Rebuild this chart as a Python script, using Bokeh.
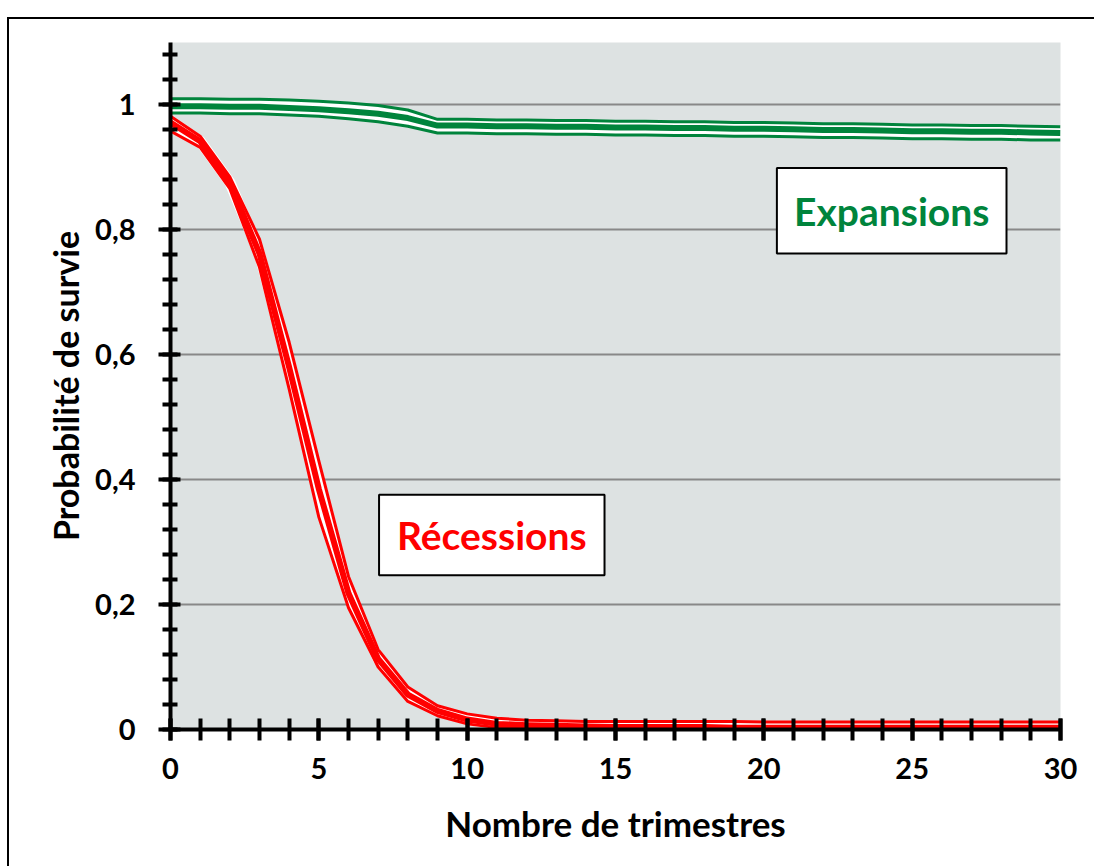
from bokeh.plotting import figure
from bokeh.models import Range1d, FixedTicker, BoxAnnotation, Label
from bokeh.embed import file_html
from bokeh.resources import INLINE

# ---- data ----
quarters = list(range(31))

rec_mid = [0.972, 0.942, 0.876, 0.762, 0.580, 0.385, 0.218, 0.113, 0.056, 0.030,
           0.016, 0.009, 0.007, 0.006, 0.005, 0.004, 0.004, 0.004, 0.004, 0.003,
           0.003, 0.003, 0.003, 0.003, 0.003, 0.003, 0.003, 0.003, 0.003, 0.003, 0.003]
rec_up = [0.982, 0.950, 0.885, 0.785, 0.620, 0.430, 0.245, 0.128, 0.068, 0.038,
          0.025, 0.018, 0.015, 0.014, 0.013, 0.013, 0.013, 0.013, 0.013, 0.013,
          0.012, 0.012, 0.012, 0.012, 0.012, 0.012, 0.012, 0.012, 0.012, 0.012, 0.012]
rec_lo = [0.958, 0.932, 0.866, 0.740, 0.545, 0.340, 0.195, 0.100, 0.045, 0.022,
          0.009, 0.003, 0.001, 0.000, 0.000, 0.000, 0.000, 0.000, 0.000, 0.000,
          0.000, 0.000, 0.000, 0.000, 0.000, 0.000, 0.000, 0.000, 0.000, 0.000, 0.000]

exp_mid = [0.998, 0.998, 0.997, 0.997, 0.995, 0.993, 0.990, 0.986, 0.979, 0.967,
           0.967, 0.966, 0.966, 0.965, 0.965, 0.964, 0.964, 0.963, 0.963, 0.962,
           0.962, 0.961, 0.960, 0.960, 0.959, 0.958, 0.958, 0.957, 0.957, 0.956, 0.955]
exp_up = [1.010, 1.010, 1.009, 1.009, 1.008, 1.006, 1.003, 0.999, 0.992, 0.977,
          0.977, 0.976, 0.976, 0.975, 0.975, 0.974, 0.974, 0.973, 0.973, 0.972,
          0.972, 0.971, 0.970, 0.970, 0.969, 0.968, 0.968, 0.967, 0.967, 0.966, 0.965]
exp_lo = [0.987, 0.987, 0.986, 0.986, 0.984, 0.982, 0.978, 0.973, 0.966, 0.955,
          0.955, 0.954, 0.954, 0.953, 0.953, 0.952, 0.952, 0.951, 0.951, 0.950,
          0.950, 0.949, 0.948, 0.948, 0.947, 0.946, 0.946, 0.945, 0.945, 0.944, 0.944]

x_ticks = [0, 5, 10, 15, 20, 25, 30]
x_tick_labels = ["0", "5", "10", "15", "20", "25", "30"]
y_ticks = [0, 0.2, 0.4, 0.6, 0.8, 1]
y_tick_labels = ["0", "0,2", "0,4", "0,6", "0,8", "1"]

FONT = "Lato"
GREEN = "#00843c"
RED = "#ff0000"

p = figure(width=1085, height=847, output_backend="svg", toolbar_location=None,
           x_range=Range1d(0, 30), y_range=Range1d(0, 1.1),
           min_border_left=161, min_border_right=36, min_border_top=23, min_border_bottom=139)
p.background_fill_color = "#dde2e2"
p.border_fill_color = "white"
p.outline_line_color = None
# outer chart frame: only its left and top edges fall inside the picture
p.styles = {"box-sizing": "content-box", "overflow": "hidden",
            "margin-left": "7px", "margin-top": "17px",
            "border-left": "2px solid black", "border-top": "2px solid black"}

# grid
p.xgrid.grid_line_color = None
p.ygrid.grid_line_color = "#888888"
p.ygrid.grid_line_width = 2

# axes
p.xaxis.ticker = FixedTicker(ticks=x_ticks, minor_ticks=quarters)
p.xaxis.major_label_overrides = dict(zip(x_ticks, x_tick_labels))
p.yaxis.ticker = FixedTicker(ticks=y_ticks, minor_ticks=[round(i * 0.04, 2) for i in range(28)])
p.yaxis.major_label_overrides = dict(zip(y_ticks, y_tick_labels))

for ax in (p.xaxis[0], p.yaxis[0]):
    ax.axis_line_width = 4
    ax.axis_line_color = "black"
    ax.major_tick_line_width = 4
    ax.minor_tick_line_width = 4
    ax.major_tick_line_color = "black"
    ax.minor_tick_line_color = "black"
    ax.major_label_text_font = FONT
    ax.major_label_text_font_style = "bold"
    ax.major_label_text_font_size = "29px"
    ax.major_label_text_color = "black"
    ax.axis_label_text_font = FONT
    ax.axis_label_text_font_style = "bold"
    ax.axis_label_text_color = "black"
    ax.axis_label_text_font_size = "34px"

p.xaxis[0].axis_label_text_font_size = "35px"

xa = p.xaxis[0]
xa.major_tick_in = 11
xa.major_tick_out = 11
xa.minor_tick_in = 11
xa.minor_tick_out = 11
xa.major_label_standoff = 17
xa.axis_label = "Nombre de trimestres"
xa.axis_label_standoff = 20

ya = p.yaxis[0]
ya.major_tick_in = 10
ya.major_tick_out = 12
ya.minor_tick_in = 7
ya.minor_tick_out = 8
ya.major_label_standoff = 23
ya.axis_label = "Probabilité de survie"
ya.axis_label_standoff = 6

# series: white fill between bounds, then the three lines
def band(lo, mid, up, color):
    p.varea(x=quarters, y1=lo, y2=up, fill_color="white", fill_alpha=1)
    p.line(quarters, mid, line_color="white", line_width=11, line_join="round")
    p.line(quarters, up, line_color=color, line_width=3, line_join="round")
    p.line(quarters, lo, line_color=color, line_width=3, line_join="round")
    p.line(quarters, mid, line_color=color, line_width=6, line_join="round")

band(exp_lo, exp_mid, exp_up, GREEN)
band(rec_lo, rec_mid, rec_up, RED)

# annotation boxes
def tag(left, right, bottom, top, text, color):
    p.add_layout(BoxAnnotation(left=left, right=right, bottom=bottom, top=top,
                               fill_color="white", fill_alpha=1,
                               line_color="black", line_width=2, line_alpha=1))
    p.add_layout(Label(x=(left + right) / 2, y=(bottom + top) / 2, text=text,
                       text_align="center", text_baseline="middle",
                       text_font=FONT, text_font_style="bold",
                       text_font_size="39px", text_color=color))

tag(20.44, 28.18, 0.762, 0.899, "Expansions", GREEN)
tag(7.03, 14.63, 0.247, 0.376, "Récessions", RED)

open("out.html", "w").write(file_html(p, INLINE))
